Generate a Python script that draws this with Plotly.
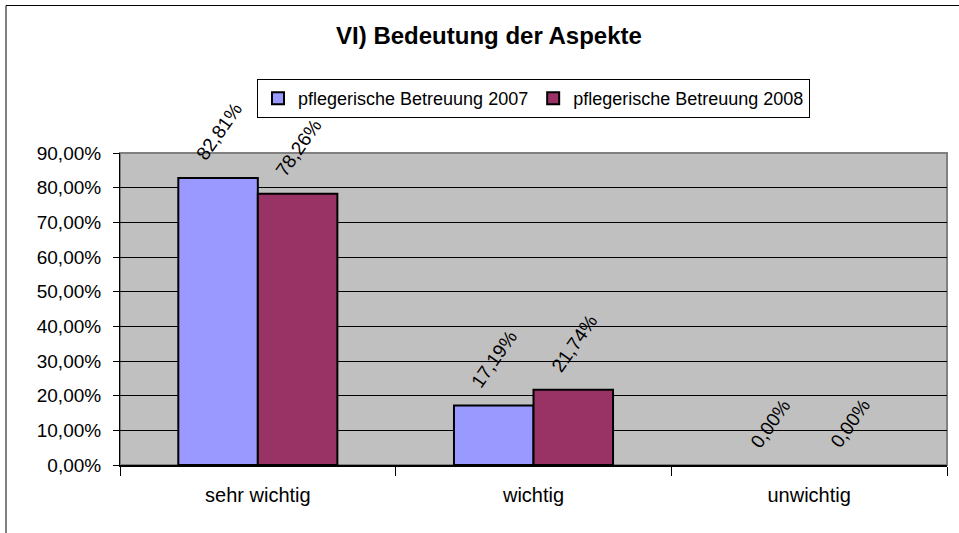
import plotly.graph_objects as go

categories = ["sehr wichtig", "wichtig", "unwichtig"]
series_names = ["pflegerische Betreuung 2007", "pflegerische Betreuung 2008"]
values_2007 = [0.8281, 0.1719, 0.0]
values_2008 = [0.7826, 0.2174, 0.0]
colors = ["#9999FF", "#993366"]

W, H = 959, 533
L, R, T, B = 120, 12, 153, 68
pw, ph = W - L - R, H - T - B
BARGAP = 0.423
bar_px = pw / 3 * (1 - BARGAP) / 2

font_family = "Liberation Sans, Arial, sans-serif"


def fmt_pct(v):
    return f"{v * 100:.2f}".replace(".", ",") + "%"


def px_x(x):
    return (x - L) / pw


def px_y(y):
    return (H - B - y) / ph


fig = go.Figure()
all_vals = [values_2007, values_2008]
for i, (name, vals, col) in enumerate(zip(series_names, all_vals, colors)):
    fig.add_trace(go.Bar(
        x=categories, y=vals, name=name,
        marker=dict(color=col, line=dict(color="black",
                                         width=[2 if v > 0 else 0 for v in vals])),
        cliponaxis=False,
    ))
    for cat, v in zip(categories, vals):
        fig.add_annotation(
            x=cat, y=v, xref="x", yref="y", text=fmt_pct(v), showarrow=False,
            textangle=-55, xanchor="center", yanchor="bottom",
            xshift=(i - 0.5) * bar_px + 1, yshift=11,
            font=dict(size=19, color="black", family=font_family),
        )

# outer chart border
fig.add_shape(type="rect", xref="paper", yref="paper",
              x0=px_x(6), x1=px_x(975), y0=px_y(550), y1=px_y(5.5),
              line=dict(color="black", width=1), fillcolor="rgba(0,0,0,0)", layer="below")
# plot-area border
fig.add_shape(type="rect", xref="paper", yref="paper",
              x0=0, x1=1, y0=0, y1=1,
              line=dict(color="#808080", width=2), fillcolor="rgba(0,0,0,0)", layer="below")

fig.update_layout(
    width=W, height=H,
    margin=dict(l=L, r=R, t=T, b=B, autoexpand=False),
    paper_bgcolor="white", plot_bgcolor="#C0C0C0",
    separators=",.",
    font=dict(family=font_family, size=19, color="black"),
    title=dict(text="<b>VI) Bedeutung der Aspekte</b>", x=489 / W, xref="container",
               xanchor="center", y=1 - 36 / H, yanchor="middle", yref="container",
               font=dict(size=24, family=font_family, color="black")),
    barmode="group", bargap=BARGAP, bargroupgap=0,
    showlegend=True,
    legend=dict(orientation="h", x=px_x(533.5), xanchor="center", y=px_y(79), yanchor="top",
                bordercolor="black", borderwidth=1, bgcolor="white",
                font=dict(size=18, family=font_family), itemwidth=30,
                tracegroupgap=0),
)
fig.update_yaxes(range=[0, 0.9], dtick=0.1, tickformat=".2%",
                 showgrid=True, gridcolor="black", gridwidth=1,
                 ticks="outside", ticklen=6, tickcolor="black",
                 showline=True, linecolor="black", linewidth=1,
                 zeroline=False, tickfont=dict(size=19), ticklabelstandoff=8)
fig.update_xaxes(ticks="outside", tickson="boundaries", ticklen=9, tickcolor="black",
                 showline=True, linecolor="black", linewidth=2,
                 tickfont=dict(size=20), ticklabelstandoff=11)

fig.write_html("out.html", config={"displayModeBar": False},
               post_script="document.body.style.margin='0';document.body.style.overflow='hidden';")
